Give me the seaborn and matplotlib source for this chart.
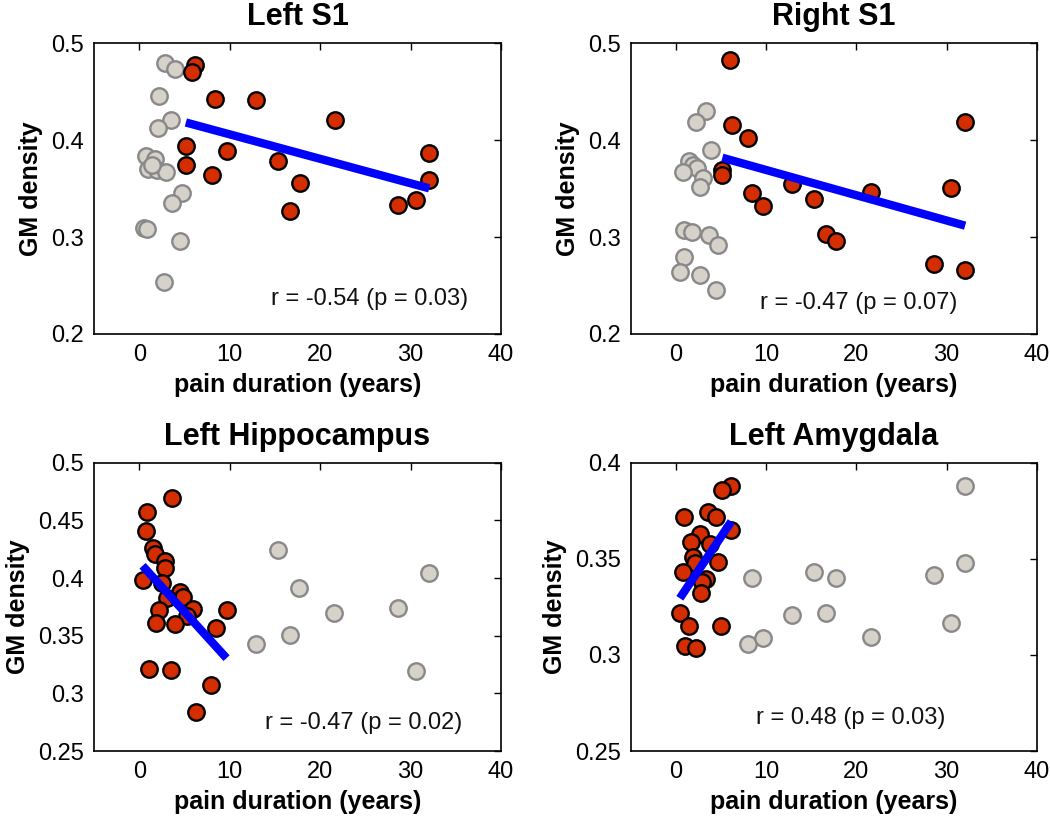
import numpy as np
import pandas as pd
import matplotlib
matplotlib.use("Agg")
import matplotlib.pyplot as plt
import seaborn as sns

# Left S1
s1l_red_x = [6.15, 5.79, 8.37, 12.97, 21.6, 5.16, 9.66, 5.16, 15.37, 8.0, 17.77, 16.66, 28.6, 30.6, 32.07, 32.07]
s1l_red_y = [0.478, 0.471, 0.443, 0.442, 0.421, 0.394, 0.389, 0.375, 0.379, 0.3645, 0.356, 0.327, 0.333, 0.338, 0.387, 0.359]
s1l_gray_x = [2.84, 3.94, 2.21, 3.47, 2.1, 0.74, 1.73, 0.99, 1.92, 2.95, 1.37, 4.68, 3.58, 0.52, 0.82, 4.5, 2.73]
s1l_gray_y = [0.480, 0.474, 0.446, 0.421, 0.413, 0.384, 0.381, 0.370, 0.369, 0.367, 0.375, 0.346, 0.335, 0.309, 0.308, 0.2956, 0.254]

# Right S1
s1r_red_x = [5.96, 6.25, 7.98, 5.15, 5.15, 8.46, 9.63, 12.83, 15.33, 16.62, 17.79, 21.58, 28.57, 30.48, 32.06, 32.06]
s1r_red_y = [0.483, 0.4155, 0.402, 0.369, 0.3645, 0.346, 0.332, 0.355, 0.339, 0.303, 0.296, 0.347, 0.272, 0.351, 0.419, 0.266]
s1r_gray_x = [3.38, 2.2, 3.93, 1.47, 1.91, 2.35, 0.81, 3.01, 2.72, 0.88, 1.84, 3.67, 4.66, 0.88, 0.44, 2.72, 4.41]
s1r_gray_y = [0.430, 0.419, 0.390, 0.379, 0.375, 0.3715, 0.367, 0.361, 0.352, 0.307, 0.305, 0.3025, 0.292, 0.280, 0.2645, 0.261, 0.2456]

# Left Hippocampus
hip_red_x = [3.58, 0.82, 0.74, 1.55, 1.73, 2.84, 2.84, 0.37, 2.47, 4.5, 4.8, 3.02, 5.97, 5.3, 9.66, 2.21,
             1.85, 3.94, 8.47, 1.07, 3.47, 7.89, 6.23]
hip_red_y = [0.469, 0.457, 0.441, 0.426, 0.4205, 0.4146, 0.409, 0.3985, 0.396, 0.388, 0.384, 0.383, 0.373, 0.3675, 0.3727, 0.3727,
             0.361, 0.360, 0.357, 0.321, 0.320, 0.307, 0.284]
hip_gray_x = [15.37, 17.69, 32.07, 28.64, 21.56, 16.66, 12.9, 30.6]
hip_gray_y = [0.424, 0.3915, 0.404, 0.374, 0.370, 0.351, 0.343, 0.319]

# Left Amygdala
amy_red_x = [6.14, 5.15, 0.88, 3.56, 4.49, 2.65, 6.14, 1.73, 3.75, 1.91, 2.09, 4.67, 0.8, 3.38, 2.94, 2.83,
             0.44, 1.47, 5.04, 0.99, 2.2]
amy_red_y = [0.388, 0.3857, 0.372, 0.3745, 0.372, 0.363, 0.365, 0.359, 0.3575, 0.3512, 0.3477, 0.3486, 0.343, 0.3397, 0.338, 0.332,
             0.322, 0.315, 0.315, 0.3047, 0.3038]
amy_gray_x = [32.0, 32.0, 8.46, 15.33, 17.72, 28.57, 12.87, 16.69, 30.48, 21.58, 7.98, 9.63]
amy_gray_y = [0.388, 0.348, 0.340, 0.3434, 0.340, 0.3417, 0.321, 0.322, 0.3167, 0.3093, 0.3055, 0.3086]

titles = ["Left S1", "Right S1", "Left Hippocampus", "Left Amygdala"]
stats_text = ["r = -0.54 (p = 0.03)", "r = -0.47 (p = 0.07)", "r = -0.47 (p = 0.02)", "r = 0.48 (p = 0.03)"]
yticks_list = [[0.2, 0.3, 0.4, 0.5], [0.2, 0.3, 0.4, 0.5],
               [0.25, 0.3, 0.35, 0.4, 0.45, 0.5], [0.25, 0.3, 0.35, 0.4]]
ylims = [(0.2, 0.5), (0.2, 0.5), (0.25, 0.5), (0.25, 0.4)]
text_pos = [(0.92, 0.12), (0.805, 0.106), (0.905, 0.098), (0.775, 0.114)]

panels = [
    (s1l_red_x, s1l_red_y, s1l_gray_x, s1l_gray_y),
    (s1r_red_x, s1r_red_y, s1r_gray_x, s1r_gray_y),
    (hip_red_x, hip_red_y, hip_gray_x, hip_gray_y),
    (amy_red_x, amy_red_y, amy_gray_x, amy_gray_y),
]

sns.set_style("white")
plt.rcParams['font.family'] = ['Liberation Sans', 'DejaVu Sans']
plt.rcParams['text.color'] = 'black'
plt.rcParams['axes.labelcolor'] = 'black'
plt.rcParams['axes.titlecolor'] = 'black'

fig = plt.figure(figsize=(10.5, 8.19), dpi=100)
rects = [
    [0.0895, 0.5922, 0.3876, 0.3547],
    [0.6007, 0.5922, 0.3867, 0.3547],
    [0.0895, 0.0830, 0.3876, 0.3520],
    [0.6007, 0.0830, 0.3867, 0.3520],
]

for i, (rx, ry, gx, gy) in enumerate(panels):
    ax = fig.add_axes(rects[i])
    red = pd.DataFrame({'x': rx, 'y': ry})
    gray = pd.DataFrame({'x': gx, 'y': gy})
    sns.scatterplot(data=gray, x='x', y='y', ax=ax, s=140, color='#d6d2ca',
                    edgecolor='#888888', linewidth=1.7, zorder=2)
    sns.scatterplot(data=red, x='x', y='y', ax=ax, s=140, color='#d42e00',
                    edgecolor='black', linewidth=1.7, zorder=3)
    sns.regplot(data=red, x='x', y='y', ax=ax, scatter=False, ci=None,
                line_kws=dict(color='#0000ff', lw=6, zorder=4, solid_capstyle='butt'))
    ax.set_xlim(-5, 40)
    ax.set_ylim(*ylims[i])
    ax.set_xticks([0, 10, 20, 30, 40])
    ax.set_yticks(yticks_list[i])
    ax.set_yticklabels([f"{t:g}" for t in yticks_list[i]])
    ax.tick_params(direction='in', top=True, right=True, length=5, width=1,
                   labelsize=17, pad=7, colors='black')
    for sp in ax.spines.values():
        sp.set_color('black')
        sp.set_linewidth(1.2)
    ax.set_xlabel('pain duration (years)', fontsize=18, fontweight='bold', labelpad=5)
    ax.set_ylabel('GM density', fontsize=18, fontweight='bold', labelpad=6)
    ax.set_title(titles[i], fontsize=22, fontweight='bold', pad=13)
    tx, ty = text_pos[i]
    ax.text(tx, ty, stats_text[i], transform=ax.transAxes, ha='right', va='center',
            fontsize=17, color='#111111')

fig.savefig('out.png', dpi=100)
